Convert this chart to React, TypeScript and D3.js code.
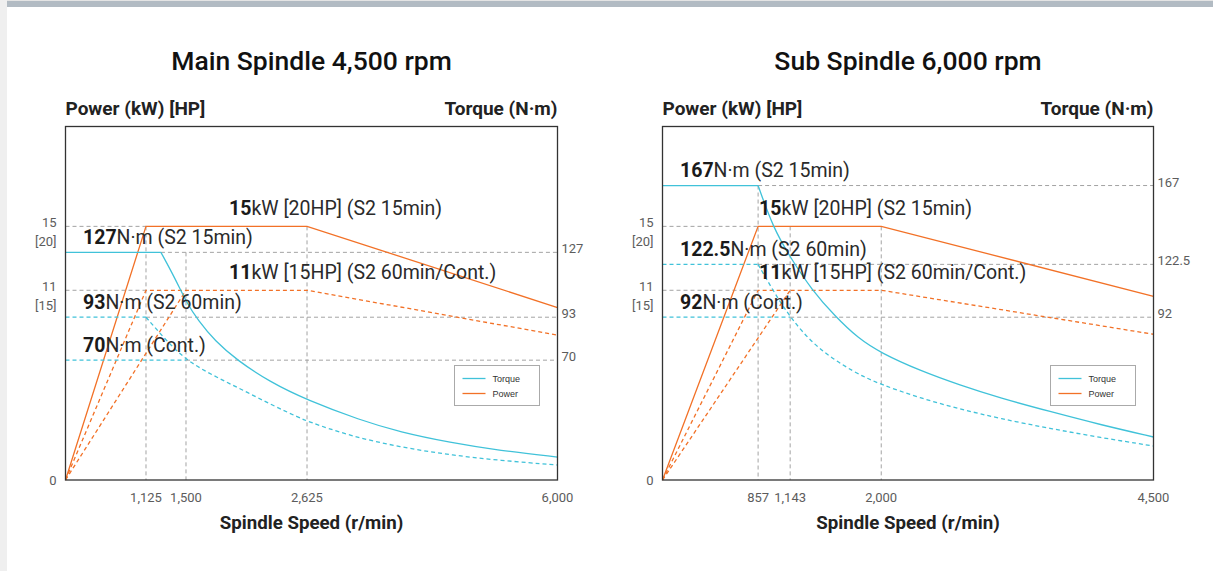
import * as d3 from 'd3';

type Pt = [number, number];

const CYAN = '#40c2d9';
const ORANGE = '#f27127';
const GUIDE = '#a3a3a3';
const INK = '#222';
const TICK = '#5c5c5c';
const FONT = 'Roboto, "Open Sans", sans-serif';

// ---------- Main spindle ----------
const mainTitle = 'Main Spindle 4,500 rpm';
const mainSpeedTicks = [0, 1125, 1500, 2625, 6000];
const mainSpeedLabels = ['', '1,125', '1,500', '2,625', '6,000'];
const mainPowerTicks = [0, 11, 15];
const mainPowerLabels = [['0'], ['11', '[15]'], ['15', '[20]']];
const mainTorqueTicks = [0, 70, 93, 127];
const mainTorqueLabels = ['', '70', '93', '127'];

const mainPowerS2_15: Pt[] = [[0, 0], [1125, 15], [2625, 15], [6000, 10]];
const mainPowerS2_60: Pt[] = [[0, 0], [1125, 11], [2625, 11], [6000, 8.4]];
const mainPowerCont: Pt[] = [[0, 0], [1500, 11]];
const mainTorqueS2_15: Pt[] = [
  [0, 127], [1265, 127], [1397, 113.4], [1509, 100.3], [1612, 91.4], [1770, 80.2],
  [1974, 70], [2281, 57.2], [2625, 46.7], [3339, 35], [3878, 28], [4552, 21.9],
  [5225, 17.2], [6000, 13.4],
];
const mainTorqueS2_60: Pt[] = [
  [0, 93], [1125, 93], [1312, 80.7], [1500, 70], [1760, 60.7], [2030, 52.5],
  [2300, 43.75], [2560, 36.2], [2625, 34.4], [3204, 25.7], [3878, 19.25],
  [4552, 14.6], [5225, 11.4], [6000, 8.75],
];
const mainTorqueCont: Pt[] = [[0, 70], [1500, 70]];

const mainNotes = [
  { bold: '15', rest: 'kW [20HP] (S2 15min)', axis: 'power', value: 15, col: 'mid' },
  { bold: '127', rest: 'N·m (S2 15min)', axis: 'torque', value: 127, col: 'left' },
  { bold: '11', rest: 'kW [15HP] (S2 60min/Cont.)', axis: 'power', value: 11, col: 'mid' },
  { bold: '93', rest: 'N·m (S2 60min)', axis: 'torque', value: 93, col: 'left' },
  { bold: '70', rest: 'N·m (Cont.)', axis: 'torque', value: 70, col: 'left' },
];
// guides: horizontal [axis, value, fromSpeed, toSpeed], vertical [speed, axis, value]
const mainHGuides: [string, number, number, number][] = [
  ['power', 15, 0, 1125], ['power', 11, 0, 1125],
  ['torque', 127, 1265, 6000], ['torque', 93, 1125, 6000], ['torque', 70, 1500, 6000],
];
const mainVGuides: [number, string, number][] = [
  [1125, 'power', 15], [1500, 'torque', 127], [2625, 'power', 15],
];

// ---------- Sub spindle ----------
const subTitle = 'Sub Spindle 6,000 rpm';
const subSpeedTicks = [0, 857, 1143, 2000, 4500];
const subSpeedLabels = ['', '857', '1,143', '2,000', '4,500'];
const subPowerTicks = [0, 11, 15];
const subPowerLabels = [['0'], ['11', '[15]'], ['15', '[20]']];
const subTorqueTicks = [0, 92, 122.5, 167];
const subTorqueLabels = ['', '92', '122.5', '167'];

const subPowerS2_15: Pt[] = [[0, 0], [857, 15], [2000, 15], [4500, 10.65]];
const subPowerS2_60: Pt[] = [[0, 0], [857, 11], [2000, 11], [4500, 8.45]];
const subPowerCont: Pt[] = [[0, 0], [1143, 11]];
const subTorqueS2_15: Pt[] = [
  [0, 167], [857, 167], [990, 143.4], [1143, 126.5], [1348, 107.6], [1565, 92.6],
  [1782, 80.1], [2000, 71.7], [2356, 61.8], [2723, 53.6], [3091, 46.3],
  [3550, 38.7], [4009, 31.3], [4500, 24.3],
];
const subTorqueS2_60: Pt[] = [
  [0, 122.5], [857, 122.5], [999, 106.4], [1143, 92], [1377, 75.1], [1753, 60.4],
  [2000, 53.9], [2356, 46.3], [2723, 40.1], [3091, 34.7], [3550, 29.1],
  [4009, 24], [4500, 19.2],
];
const subTorqueCont: Pt[] = [[0, 92], [1143, 92]];

const subNotes = [
  { bold: '167', rest: 'N·m (S2 15min)', axis: 'torque', value: 167, col: 'left' },
  { bold: '15', rest: 'kW [20HP] (S2 15min)', axis: 'power', value: 15, col: 'mid' },
  { bold: '122.5', rest: 'N·m (S2 60min)', axis: 'torque', value: 122.5, col: 'left' },
  { bold: '11', rest: 'kW [15HP] (S2 60min/Cont.)', axis: 'power', value: 11, col: 'mid' },
  { bold: '92', rest: 'N·m (Cont.)', axis: 'torque', value: 92, col: 'left' },
];
const subHGuides: [string, number, number, number][] = [
  ['torque', 167, 857, 4500], ['power', 15, 0, 857], ['torque', 122.5, 857, 4500],
  ['power', 11, 0, 857], ['torque', 92, 1143, 4500],
];
const subVGuides: [number, string, number][] = [
  [857, 'torque', 167], [1143, 'power', 15], [2000, 'power', 15],
];

const W = 1213;
const H = 571;
const TOP = 126.5;
const BOTTOM = 480;

function Chart(p: any) {
  const { left, right, midX } = p;
  const pw = right - left;
  const ph = BOTTOM - TOP;
  const x = d3.scaleLinear().domain(p.speedTicks).range(p.speedFrac.map((f: number) => left + f * pw));
  const yP = d3.scaleLinear().domain(p.powerTicks).range(p.powerFrac.map((f: number) => BOTTOM - f * ph));
  const yT = d3.scaleLinear().domain(p.torqueTicks).range(p.torqueFrac.map((f: number) => BOTTOM - f * ph));
  const ys: any = { power: yP, torque: yT };

  const lin = (s: any) => d3.line<Pt>().x((d) => x(d[0])).y((d) => s(d[1]));
  const curved = d3.line<Pt>().x((d) => x(d[0])).y((d) => yT(d[1])).curve(d3.curveBasis);
  // torque: flat part straight, falling part smooth
  const torquePath = (pts: Pt[], dashed: boolean) => (
    <g fill="none" stroke={CYAN} strokeWidth={1.3} strokeDasharray={dashed ? '4,3' : undefined}>
      <path d={lin(yT)(pts.slice(0, 2)) || ''} />
      <path d={curved(pts.slice(1)) || ''} />
    </g>
  );
  const cx = (left + right) / 2;
  const lx = right - 103;

  return (
    <g fontFamily={FONT}>
      <text x={cx} y={69.5} textAnchor="middle" fontSize={26.5} fontWeight={500} fill="#111">{p.title}</text>
      <text x={left} y={114.5} fontSize={19} fontWeight={700} fill={INK}>Power (kW) [HP]</text>
      <text x={right} y={114.5} textAnchor="end" fontSize={19} fontWeight={700} fill={INK}>Torque (N·m)</text>

      {p.hGuides.map((g: any, i: number) => (
        <line key={'h' + i} x1={x(g[2])} x2={x(g[3])} y1={ys[g[0]](g[1])} y2={ys[g[0]](g[1])}
          stroke={GUIDE} strokeWidth={1} strokeDasharray="4,3" />
      ))}
      {p.vGuides.map((g: any, i: number) => (
        <line key={'v' + i} x1={x(g[0])} x2={x(g[0])} y1={ys[g[1]](g[2])} y2={BOTTOM}
          stroke={GUIDE} strokeWidth={1} strokeDasharray="4,3" />
      ))}

      <g fill="none" stroke={ORANGE} strokeWidth={1.3}>
        <path d={lin(yP)(p.powerS2_60) || ''} strokeDasharray="4,3" />
        <path d={lin(yP)(p.powerCont) || ''} strokeDasharray="4,3" />
        <path d={lin(yP)(p.powerS2_15) || ''} />
      </g>
      <path d={lin(yT)(p.torqueCont) || ''} fill="none" stroke={CYAN} strokeWidth={1.3} strokeDasharray="4,3" />
      {torquePath(p.torqueS2_60, true)}
      {torquePath(p.torqueS2_15, false)}

      {p.notes.map((n: any, i: number) => (
        <text key={'n' + i} x={n.col === 'left' ? left + 17.5 : midX} y={ys[n.axis](n.value) - (n.axis === 'power' ? 11.5 : 8.5)}
          fontSize={19.5} fill="#2a2a2a">
          <tspan fontWeight={700} fill="#1a1a1a">{n.bold}</tspan>{n.rest}
        </text>
      ))}

      {p.powerTicks.map((t: number, i: number) => (
        <text key={'pl' + i} textAnchor="end" fontSize={13} fill={TICK}>
          {p.powerLabels[i].map((s: string, j: number) => (
            <tspan key={j} x={left - 9} y={yP(t) + (t === 0 ? 5 : 1) + j * 19}>{s}</tspan>
          ))}
        </text>
      ))}
      {p.torqueTicks.map((t: number, i: number) => (
        <text key={'tl' + i} x={right + 4} y={yT(t) + 1} fontSize={13} fill={TICK}>{p.torqueLabels[i]}</text>
      ))}
      {p.speedTicks.map((t: number, i: number) => (
        <text key={'sl' + i} x={x(t)} y={502} textAnchor="middle" fontSize={13} fill={TICK}>{p.speedLabels[i]}</text>
      ))}
      <text x={cx} y={528.5} textAnchor="middle" fontSize={18.7} fontWeight={700} fill={INK}>Spindle Speed (r/min)</text>

      <rect x={left} y={TOP} width={pw} height={ph} fill="none" stroke="#333" strokeWidth={1.3} />

      <rect x={lx} y={365.5} width={85} height={40} fill="#fff" stroke="#aaa" strokeWidth={1} />
      <line x1={lx + 8} x2={lx + 31} y1={378.5} y2={378.5} stroke={CYAN} strokeWidth={1.3} />
      <line x1={lx + 8} x2={lx + 31} y1={393.5} y2={393.5} stroke={ORANGE} strokeWidth={1.3} />
      <text x={lx + 38} y={381.5} fontSize={9} fontFamily="Liberation Sans, Arial, sans-serif" fill="#333">Torque</text>
      <text x={lx + 38} y={396.5} fontSize={9} fontFamily="Liberation Sans, Arial, sans-serif" fill="#333">Power</text>
    </g>
  );
}

export default function App() {
  return (
    <svg width={W} height={H} style={{ position: 'absolute', left: 0, top: 0, background: '#fff' }}>
      <rect x={0} y={0} width={W} height={H} fill="#fff" />
      <rect x={0} y={0} width={7} height={H} fill="#efefef" />
      <rect x={7} y={0} width={W - 7} height={1} fill="#e4e4e4" />
      <rect x={7} y={1} width={W - 7} height={6} fill="#b2bbc3" />
      <Chart
        left={65.5} right={557.5} midX={229}
        title={mainTitle}
        speedTicks={mainSpeedTicks} speedLabels={mainSpeedLabels} speedFrac={[0, 0.1636, 0.2449, 0.4909, 1]}
        powerTicks={mainPowerTicks} powerLabels={mainPowerLabels} powerFrac={[0, 0.5367, 0.7175]}
        torqueTicks={mainTorqueTicks} torqueLabels={mainTorqueLabels} torqueFrac={[0, 0.339, 0.4605, 0.644]}
        powerS2_15={mainPowerS2_15} powerS2_60={mainPowerS2_60} powerCont={mainPowerCont}
        torqueS2_15={mainTorqueS2_15} torqueS2_60={mainTorqueS2_60} torqueCont={mainTorqueCont}
        notes={mainNotes} hGuides={mainHGuides} vGuides={mainVGuides}
      />
      <Chart
        left={662.5} right={1153.5} midX={759}
        title={subTitle}
        speedTicks={subSpeedTicks} speedLabels={subSpeedLabels} speedFrac={[0, 0.1947, 0.26, 0.4455, 1]}
        powerTicks={subPowerTicks} powerLabels={subPowerLabels} powerFrac={[0, 0.5367, 0.7175]}
        torqueTicks={subTorqueTicks} torqueLabels={subTorqueLabels} torqueFrac={[0, 0.4605, 0.61, 0.833]}
        powerS2_15={subPowerS2_15} powerS2_60={subPowerS2_60} powerCont={subPowerCont}
        torqueS2_15={subTorqueS2_15} torqueS2_60={subTorqueS2_60} torqueCont={subTorqueCont}
        notes={subNotes} hGuides={subHGuides} vGuides={subVGuides}
      />
    </svg>
  );
}
